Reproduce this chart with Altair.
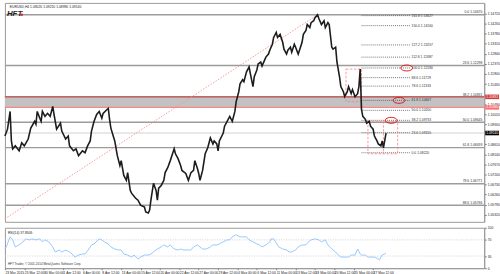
import math
import altair as alt
import pandas as pd

FONT = "Liberation Sans"
FS = 3.4

# ---- price series (H4 closes, bar index) ----
bar_index = [0,2,4,5,6,8,11,13,15,18,20,23,24,25,27,28,29,31,33,35,37,38,40,43,44,47,49,50,53,55,57,60,62,64,66,67,69,71,73,75,76,79,80,81,82,85,87,89,90,92,94,95,97,98,101,103,105,108,109,111,112,113,115,117,118,119,121,123,124,126,128,131,132,134,136,137,140,142,144,146,147,149,150,151,153,155,157,159,161,162,164,165,166,169,170,172,174,176,178,179,181,182,184,185,187,189,190,192,193,195,196,198,199,201,202,204,205,207,208,210,211,213,215,216,218,219,221,222,224,225,227,228,230,231,233,234,236,237,239,240,242,243,245,247,248,250,251,253,254,256,257,259,260,262,263,265,266,268,269,271,273,274,275,276,277,279,280,282,283,285,286,288,289,291,292,293,295]
closes = [1.0900,1.0932,1.1015,1.0877,1.0840,1.0854,1.0831,1.0868,1.0854,1.0886,1.0937,1.0969,1.0955,1.1015,1.0983,1.0969,1.1015,1.0992,1.1006,1.0992,1.1038,1.1001,1.0932,1.0960,1.0923,1.0886,1.0900,1.0854,1.0831,1.0840,1.0808,1.0831,1.0822,1.0854,1.0877,1.0923,1.0969,1.1001,1.1015,1.0983,1.1006,1.1024,1.1029,1.0978,1.0937,1.0877,1.0808,1.0762,1.0785,1.0716,1.0693,1.0729,1.0646,1.0633,1.0610,1.0600,1.0577,1.0568,1.0545,1.0540,1.0554,1.0600,1.0679,1.0646,1.0600,1.0656,1.0669,1.0693,1.0729,1.0752,1.0785,1.0840,1.0817,1.0794,1.0762,1.0739,1.0725,1.0693,1.0729,1.0739,1.0785,1.0748,1.0725,1.0693,1.0739,1.0817,1.0845,1.0891,1.0863,1.0877,1.0863,1.0831,1.0877,1.0914,1.0946,1.0969,1.0992,1.0969,1.1015,1.1061,1.1107,1.1144,1.1163,1.1154,1.1200,1.1223,1.1190,1.1131,1.1177,1.1209,1.1237,1.1246,1.1227,1.1255,1.1269,1.1283,1.1301,1.1329,1.1361,1.1384,1.1361,1.1375,1.1338,1.1306,1.1283,1.1301,1.1315,1.1292,1.1329,1.1315,1.1283,1.1301,1.1338,1.1375,1.1393,1.1421,1.1407,1.1430,1.1439,1.1453,1.1467,1.1449,1.1421,1.1439,1.1407,1.1430,1.1421,1.1315,1.1306,1.1315,1.1246,1.1177,1.1131,1.1107,1.1084,1.1107,1.1131,1.1098,1.1117,1.1084,1.1098,1.1131,1.1213,1.1024,1.0992,1.0978,1.0960,1.0969,1.0946,1.0932,1.0900,1.0877,1.0863,1.0854,1.0877,1.0845,1.0914]

# ---- RSI(14) ----
rsi_bar = [0,1,4,6,8,11,14,16,19,21,24,27,29,31,34,37,39,42,44,47,50,52,54,57,60,62,65,67,69,73,75,77,80,82,85,88,90,92,95,98,100,103,105,108,111,113,115,118,121,123,126,128,131,134,136,138,141,144,146,149,151,153,156,159,161,164,166,169,172,174,176,179,182,184,187,189,192,195,197,199,202,205,206,208,211,212,215,218,220,222,225,227,230,233,235,237,240,243,245,248,250,253,256,258,260,263,266,268,271,273,275,276,279,281,283,286,289,290,291,292,294,295]
rsi_val = [47.5,52.5,77.5,70,52.5,57.5,65,72.5,70,72.5,70,72.5,65,70,65,52.5,40,45,40,45,40,35,27.5,32.5,35,35,47.5,57.5,60,72.5,70,65,60,52.5,47.5,45,45,35,32.5,27.5,32.5,22.5,27.5,32.5,32.5,35,40,47.5,52.5,57.5,52.5,57.5,47.5,45,47.5,45,45,45,52.5,57.5,52.5,47.5,47.5,52.5,57.5,57.5,60,65,70,70,77.5,82.5,77.5,77.5,77.5,70,65,60,57.5,52.5,57.5,65,72.5,72.5,57.5,52.5,47.5,45,40,40,45,52.5,57.5,57.5,65,70,72.5,70,65,70,57.5,47.5,40,32.5,27.5,27.5,27.5,32.5,32.5,47.5,35,32.5,32.5,27.5,27.5,27.5,22.5,20,27.5,32.5,35,37.85]

# ---- Fibonacci retracement (May high -> March low) ----
fib_levels = ["0.0", "23.6", "38.2", "50.0", "61.8", "78.6", "88.6"]
fib_prices = [1.14670, 1.12298, 1.10831, 1.09645, 1.08459, 1.06771, 1.05766]

# ---- Fibonacci expansion (dotted, last swing) ----
ext_levels = ["0.0", "23.6", "38.2", "50.0", "61.8", "78.6", "88.6", "100.0", "112.8", "127.2", "150.0", "161.8"]
ext_prices = [1.08220, 1.09155, 1.09733, 1.10200, 1.10667, 1.11333, 1.11729, 1.12180, 1.12687, 1.13257, 1.14160, 1.14627]
ext_start_bar = 276
ext_end_bar = 314

band_top = 1.10831
band_bottom = 1.10340
last_price = 1.09140

# circled targets (bar, price)
circle_bars = [311, 305, 299]
circle_prices = [1.12180, 1.10667, 1.09733]

# dashed boxes
box_x1 = [264, 281]
box_x2 = [276, 304]
box_y1 = [1.1213, 1.0969]
box_y2 = [1.1061, 1.0817]
box_split_bar = [293]

# trend line (March low -> May high)
trend_bars = [0, 242]
trend_prices = [1.0513, 1.1467]

# price-axis ticks (those hidden under the coloured price tags are left out)
price_ticks = [1.14720, 1.14250, 1.13780, 1.13310, 1.12840, 1.12370, 1.11900, 1.11430,
               1.10490, 1.10020, 1.09550, 1.08610, 1.08140, 1.07670, 1.07200, 1.06730,
               1.06260, 1.05790, 1.05320]

date_ticks = [0, 15, 30, 45, 60, 75, 90, 105, 120, 135, 150, 165, 180, 195, 210, 225, 240, 255, 270, 285]
date_labels = ["23 Mar 2015", "25 Mar 12:00", "30 Mar 00:00", "1 Apr 12:00", "6 Apr 00:00",
               "8 Apr 12:00", "13 Apr 00:00", "15 Apr 12:00", "20 Apr 00:00", "22 Apr 12:00",
               "27 Apr 00:00", "29 Apr 12:00", "4 May 00:00", "6 May 12:00", "11 May 00:00",
               "13 May 12:00", "18 May 00:00", "20 May 12:00", "25 May 00:00", "27 May 12:00"]

header = "EURUSD,H4  1.09020 1.09210 1.08990 1.09140"
rsi_title = "RSI(14) 37.8505"
copyright_txt = "HFT Trader, \u00a9 2001-2014 MetaQuotes Software Corp."

W = 486
H_MAIN = 222
H_RSI = 41

xs = alt.Scale(domain=[0, 371], nice=False, zero=False)
ys = alt.Scale(domain=[1.04989, 1.15223], nice=False, zero=False)
yax = alt.Axis(orient="right", values=price_ticks, format=".5f", labelFont=FONT, labelFontSize=FS,
               labelColor="#222", tickSize=2, tickColor="#777", domainColor="#999", labelPadding=1,
               grid=False, labelFlush=False, labelOverlap=False, title=None)


def X(f):
    return alt.X(f, type="quantitative", scale=xs, axis=None, title=None)


def Y(f):
    return alt.Y(f, type="quantitative", scale=ys, axis=yax, title=None)


ell = [(math.cos(t * math.pi / 12), 0.5 * math.sin(t * math.pi / 12)) for t in range(24)]
ellipse_path = "M " + " L ".join(f"{a:.3f} {b:.3f}" for a, b in ell) + " Z"
tag_path = "M -1 -0.33 L 1 -0.33 L 1 0.33 L -1 0.33 Z"

price_df = pd.DataFrame({"bar": bar_index, "close": closes})
fib_df = pd.DataFrame({"lvl": fib_levels, "price": fib_prices})
fib_df["label"] = [f"{l}  {p:.5f}" for l, p in zip(fib_levels, fib_prices)]
ext_df = pd.DataFrame({"lvl": ext_levels, "price": ext_prices})
ext_df["x1"] = ext_start_bar
ext_df["x2"] = ext_end_bar
ext_df["label"] = [f"{l}  {p:.5f}" for l, p in zip(ext_levels, ext_prices)]
band_df = pd.DataFrame({"top": [band_top], "bottom": [band_bottom]})
circ_df = pd.DataFrame({"bar": circle_bars, "price": circle_prices})
box_df = pd.DataFrame({"x1": box_x1, "x2": box_x2, "y1": box_y1, "y2": box_y2})
split_df = pd.DataFrame({"bar": box_split_bar, "y1": [box_y1[1]], "y2": [box_y2[1]]})
trend_df = pd.DataFrame({"bar": trend_bars, "price": trend_prices})
tags_df = pd.DataFrame({"price": [band_top, band_bottom, last_price],
                        "bg": ["#d23a3a", "#ff6f6f", "#000000"]})
tags_df["label"] = [f"{p:.5f}" for p in tags_df["price"]]

band = alt.Chart(band_df).mark_rect(color="#c2c2c2").encode(
    x=alt.value(0), x2=alt.value("width"), y=Y("top"), y2="bottom")
fib_rules = alt.Chart(fib_df).mark_rule(color="#9c9c9c", strokeWidth=1.4).encode(y=Y("price"))
band_edges = alt.Chart(tags_df.iloc[:2]).mark_rule(strokeWidth=1).encode(
    y=Y("price"), color=alt.Color("bg:N", scale=None))
bid = alt.Chart(pd.DataFrame({"price": [last_price]})).mark_rule(color="#d0d0d0", strokeWidth=1).encode(y=Y("price"))
trend = alt.Chart(trend_df).mark_line(color="#ff8c8c", strokeDash=[1.5, 1.5], strokeWidth=0.9).encode(
    x=X("bar"), y=Y("price"))
ext_rules = alt.Chart(ext_df).mark_rule(color="#555", strokeDash=[1, 1], strokeWidth=0.8).encode(
    x=X("x1"), x2="x2", y=Y("price"))
ext_text = alt.Chart(ext_df).mark_text(align="left", baseline="middle", dx=1, font=FONT,
                                        fontSize=FS, color="#333").encode(
    x=X("x2"), y=Y("price"), text="label:N")
fib_text = alt.Chart(fib_df).mark_text(align="right", baseline="bottom", dy=-0.3, font=FONT,
                                        fontSize=FS, color="#333").encode(
    x=alt.value(W - 2), y=Y("price"), text="label:N")
boxes = alt.Chart(box_df).mark_rect(fillOpacity=0, stroke="#ff8080", strokeDash=[2.5, 1.5], strokeWidth=0.8).encode(
    x=X("x1"), x2="x2", y=Y("y1"), y2="y2")
split = alt.Chart(split_df).mark_rule(color="#ff8080", strokeDash=[2.5, 1.5], strokeWidth=0.8).encode(
    x=X("bar"), y=Y("y1"), y2="y2")
line = alt.Chart(price_df).mark_line(color="#1c1c1c", strokeWidth=1.6).encode(x=X("bar"), y=Y("close"))
circles = alt.Chart(circ_df).mark_point(shape=ellipse_path, size=144, filled=False, color="#e01818",
                                        strokeWidth=1, opacity=1).encode(x=X("bar"), y=Y("price"))
tags = alt.Chart(tags_df).mark_point(shape=tag_path, size=196, filled=True, opacity=1).encode(
    x=alt.value(W + 8), y=Y("price"), color=alt.Color("bg:N", scale=None))
tag_text = alt.Chart(tags_df).mark_text(align="left", baseline="middle", font=FONT, fontSize=FS,
                                         color="white").encode(
    x=alt.value(W + 2), y=Y("price"), text="label:N")
head = alt.Chart(pd.DataFrame({"t": [header]})).mark_text(align="left", baseline="middle", font=FONT,
                                                           fontSize=FS, color="#222").encode(
    x=alt.value(5), y=alt.value(4), text="t:N")
logo = alt.Chart(pd.DataFrame({"t": ["HFT"]})).mark_text(align="left", baseline="alphabetic", font=FONT,
                                                        fontSize=8, fontStyle="italic", fontWeight="bold",
                                                        color="#222").encode(
    x=alt.value(2), y=alt.value(13), text="t:N")
logo_dot = alt.Chart(pd.DataFrame({"t": ["HFT"]})).mark_square(size=5, color="#e02020", opacity=1).encode(
    x=alt.value(17), y=alt.value(12))

main = alt.layer(band, fib_rules, band_edges, bid, trend, ext_rules, ext_text, fib_text, boxes, split,
                 line, circles, tags, tag_text, head, logo, logo_dot).properties(width=W, height=H_MAIN)

# ---- RSI panel ----
rs = alt.Scale(domain=[0, 100], nice=False, zero=True)
rax = alt.Axis(orient="right", values=[0, 30, 70, 100], labelFont=FONT, labelFontSize=FS, labelColor="#222",
               tickSize=2, tickColor="#777", domainColor="#999", labelPadding=1, grid=False,
               labelFlush=False, labelOverlap=False, title=None)
label_js = "[" + ",".join("'" + s + "'" for s in date_labels) + "]"
xax = alt.Axis(values=date_ticks, labelExpr=label_js + "[round(datum.value/15)]", labelFont=FONT,
               labelFontSize=FS, labelColor="#222", labelAlign="left", labelPadding=0.5, tickSize=1.5,
               labelBaseline="top", tickColor="#777", domainColor="#999", grid=False, labelFlush=False,
               labelOverlap=False, title=None)


def XR(f):
    return alt.X(f, type="quantitative", scale=xs, axis=xax, title=None)


def YR(f):
    return alt.Y(f, type="quantitative", scale=rs, axis=rax, title=None)


rsi_df = pd.DataFrame({"bar": rsi_bar, "rsi": rsi_val})
lv = alt.Chart(pd.DataFrame({"lvl": [70, 30]})).mark_rule(color="#c4c4c4", strokeDash=[1, 1.5],
                                                         strokeWidth=0.8).encode(y=YR("lvl"))
rsi_line = alt.Chart(rsi_df).mark_line(color="#8cc2ff", strokeWidth=0.9).encode(x=XR("bar"), y=YR("rsi"))
rsi_lbl = alt.Chart(pd.DataFrame({"t": [rsi_title]})).mark_text(align="left", baseline="middle", font=FONT,
                                                               fontSize=FS, color="#222").encode(
    x=alt.value(3), y=alt.value(5), text="t:N")
copy_lbl = alt.Chart(pd.DataFrame({"t": [copyright_txt]})).mark_text(align="left", baseline="middle",
                                                                    font=FONT, fontSize=3.1,
                                                                    color="#333").encode(
    x=alt.value(3), y=alt.value(37), text="t:N")
rsi = alt.layer(lv, rsi_line, rsi_lbl, copy_lbl).properties(width=W, height=H_RSI)

chart = alt.vconcat(main, rsi, spacing=2).properties(
    padding={"left": 1, "top": 0, "right": 0, "bottom": 0},
    background="white",
).configure_view(stroke="#999", strokeWidth=1)

chart.save("out.html", embed_options={"renderer": "svg", "actions": False})
